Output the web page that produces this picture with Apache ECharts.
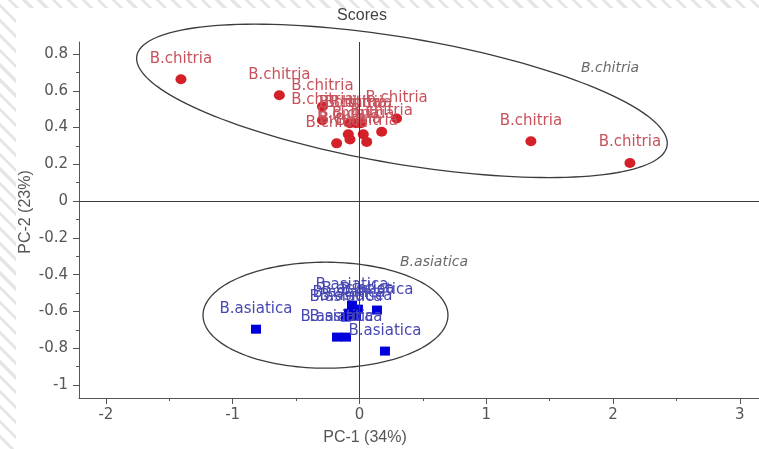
<!DOCTYPE html>
<html>
<head>
<meta charset="utf-8">
<script src="https://cdn.jsdelivr.net/npm/echarts@6/dist/echarts.min.js"></script>
<style>
  html, body {
    margin: 0; padding: 0; width: 759px; height: 449px; overflow: hidden;
    background: repeating-linear-gradient(45deg, #ffffff 0 7.5px, #e6e6e6 7.5px 10.5px);
  }
  #panel { position: absolute; left: 16px; top: 8px; right: 0; bottom: 0; background: #ffffff; }
  #chart { position: absolute; left: 0; top: 0; width: 759px; height: 449px; }
</style>
</head>
<body>
<div id="panel"></div>
<div id="chart"></div>
<script>
// PCA score plot, PC-1 against PC-2, two Bergenia species

// B. chitria sample scores
const chitriaPC1 = [-1.408, -0.632, -0.292, -0.292, 0.293, 0.175, 0.057, 0.030, -0.075, -0.088, -0.180, -0.075, -0.028, 0.012, 1.352, 2.133];
const chitriaPC2 = [0.663, 0.576, 0.514, 0.440, 0.449, 0.377, 0.322, 0.363, 0.335, 0.363, 0.314, 0.424, 0.424, 0.424, 0.326, 0.207];

// B. asiatica sample scores
const asiaticaPC1 = [-0.816, -0.177, -0.106, 0.138, 0.201, -0.059, -0.012, -0.083, -0.028, -0.106];
const asiaticaPC2 = [-0.696, -0.739, -0.739, -0.592, -0.815, -0.565, -0.587, -0.609, -0.625, -0.630];

// group ellipses: centre, then two conjugate semi-axis vectors (score units)
const ellipseCentre = [[0.335, 0.545], [-0.268, -0.620]];
const ellipseAxisU = [[2.091, -0.244], [0.966, 0]];
const ellipseAxisV = [[-0.083, -0.338], [0, 0.288]];

// axis ticks
const xMajorTicks = [-2, -1, 0, 1, 2, 3];
const xMinorTicks = [-1.5, -0.5, 0.5, 1.5, 2.5];
const yMajorTicks = [-1, -0.8, -0.6, -0.4, -0.2, 0, 0.2, 0.4, 0.6, 0.8];
const yMinorTicks = [-0.9, -0.7, -0.5, -0.3, -0.1, 0.1, 0.3, 0.5, 0.7];

const chitriaData = chitriaPC1.map((v, i) => [v, chitriaPC2[i]]);
const asiaticaData = asiaticaPC1.map((v, i) => [v, asiaticaPC2[i]]);
const ellipseData = ellipseCentre.map((c, i) => [c[0], c[1], ellipseAxisU[i][0], ellipseAxisU[i][1], ellipseAxisV[i][0], ellipseAxisV[i][1]]);

const axisGrey = '#555555';
const tickFont = { color: axisGrey, fontFamily: 'DejaVu Sans', fontSize: 15 };
const X_MIN = -2.212, X_MAX = 3.151, Y_MIN = -1.07, Y_MAX = 0.865;

function majorAxis(extra) {
  return Object.assign({
    type: 'value',
    splitLine: { show: false },
    axisLine: { show: true, onZero: false, lineStyle: { color: axisGrey, width: 1 } },
    axisTick: { show: true, inside: false, length: 6, lineStyle: { color: axisGrey } },
    axisLabel: Object.assign({ show: true, margin: 11 }, tickFont)
  }, extra);
}
function minorAxis(extra) {
  return Object.assign({
    type: 'value',
    splitLine: { show: false },
    axisLine: { show: false, onZero: false },
    axisTick: { show: true, inside: false, length: 3, lineStyle: { color: axisGrey } },
    axisLabel: { show: false }
  }, extra);
}

const chart = echarts.init(document.getElementById('chart'), null, { renderer: 'canvas' });

const labelFont = { fontFamily: 'DejaVu Sans', fontSize: 15 };

chart.setOption({
  animation: false,
  backgroundColor: 'transparent',
  grid: { left: 79, right: 0, top: 42, bottom: 51, outerBoundsMode: 'none', containLabel: false },
  xAxis: [
    majorAxis({ min: X_MIN, max: X_MAX, position: 'bottom',
      axisTick: { show: true, inside: false, length: 6, lineStyle: { color: axisGrey }, customValues: xMajorTicks },
      axisLabel: Object.assign({ show: true, margin: 10, customValues: xMajorTicks }, tickFont) }),
    minorAxis({ min: X_MIN, max: X_MAX, position: 'bottom',
      axisTick: { show: true, inside: false, length: 3, lineStyle: { color: axisGrey }, customValues: xMinorTicks } })
  ],
  yAxis: [
    majorAxis({ min: Y_MIN, max: Y_MAX, position: 'left',
      axisTick: { show: true, inside: false, length: 6, lineStyle: { color: axisGrey }, customValues: yMajorTicks },
      axisLabel: Object.assign({ show: true, margin: 11, customValues: yMajorTicks }, tickFont) }),
    minorAxis({ min: Y_MIN, max: Y_MAX, position: 'left',
      axisTick: { show: true, inside: false, length: 3, lineStyle: { color: axisGrey }, customValues: yMinorTicks } })
  ],
  graphic: [
    { type: 'text', x: 362, y: 16, silent: true,
      style: { text: 'Scores', fill: '#444444', font: '16px "Liberation Sans", Arial, sans-serif', align: 'center', verticalAlign: 'middle' } },
    { type: 'text', x: 365, y: 438, silent: true,
      style: { text: 'PC-1 (34%)', fill: axisGrey, font: '16px "Liberation Sans", Arial, sans-serif', align: 'center', verticalAlign: 'middle' } },
    { type: 'text', x: 26, y: 212, rotation: Math.PI / 2, silent: true,
      style: { text: 'PC-2 (23%)', fill: axisGrey, font: '16px "Liberation Sans", Arial, sans-serif', align: 'center', verticalAlign: 'middle' } }
  ],
  series: [
    {
      // confidence ellipses around each species group
      type: 'custom',
      name: 'ellipses',
      clip: false,
      silent: true,
      z: 1,
      encode: { x: 0, y: 1 },
      data: ellipseData,
      renderItem: function (params, api) {
        const cx = api.value(0), cy = api.value(1);
        const ux = api.value(2), uy = api.value(3);
        const vx = api.value(4), vy = api.value(5);
        const pts = [];
        const n = 160;
        for (let k = 0; k <= n; k++) {
          const t = 2 * Math.PI * k / n;
          pts.push(api.coord([cx + ux * Math.cos(t) + vx * Math.sin(t), cy + uy * Math.cos(t) + vy * Math.sin(t)]));
        }
        return {
          type: 'polygon',
          shape: { points: pts },
          style: { fill: null, stroke: '#3c3c3c', lineWidth: 1.3 }
        };
      }
    },
    {
      name: 'B.chitria',
      type: 'scatter',
      z: 3,
      symbol: 'circle',
      symbolSize: [11, 10],
      itemStyle: { color: '#d42028', opacity: 1 },
      label: Object.assign({ show: true, position: 'top', distance: 8, formatter: 'B.chitria', color: '#c8525c' }, labelFont),
      data: chitriaData,
      markLine: {
        silent: true,
        symbol: 'none',
        label: { show: false },
        lineStyle: { color: '#3c3c3c', width: 1, type: 'solid' },
        emphasis: { disabled: true },
        data: [{ xAxis: 0 }, { yAxis: 0 }]
      }
    },
    {
      name: 'B.asiatica',
      type: 'scatter',
      z: 3,
      symbol: 'rect',
      symbolSize: [10, 9],
      itemStyle: { color: '#0000dc', opacity: 1 },
      label: Object.assign({ show: true, position: 'top', distance: 8, formatter: 'B.asiatica', color: '#4848b4' }, labelFont),
      data: asiaticaData
    },
    {
      // italic group names beside the ellipses
      name: 'groups',
      type: 'scatter',
      silent: true,
      symbolSize: 0,
      z: 2,
      label: {
        show: true, position: 'inside', formatter: '{b}',
        color: '#454545', fontStyle: 'italic', fontFamily: 'DejaVu Sans', fontSize: 14
      },
      data: [
        { name: 'B.chitria', value: [1.976, 0.723] },
        { name: 'B.asiatica', value: [0.588, -0.332] }
      ]
    }
  ]
});
</script>
</body>
</html>
